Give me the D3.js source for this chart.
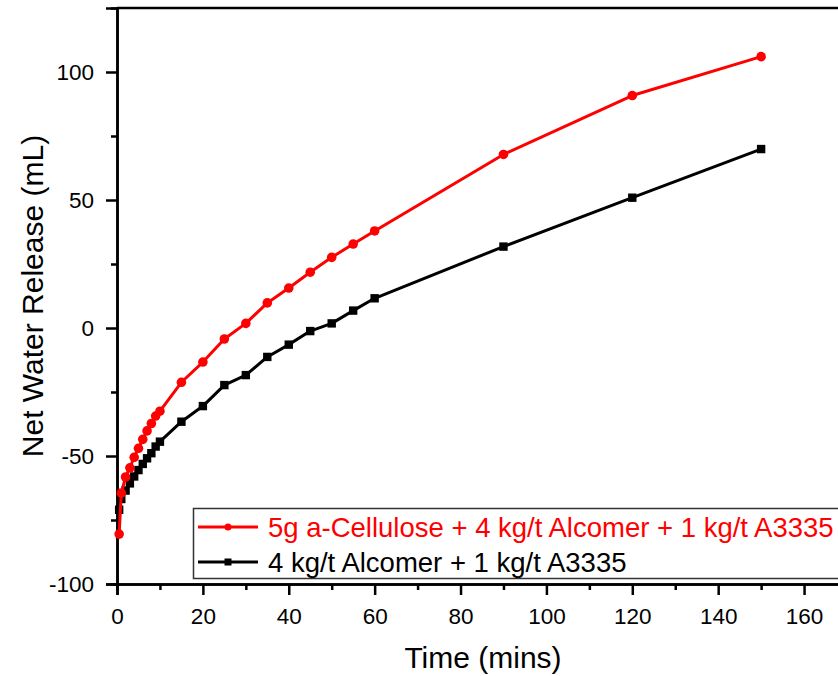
<!DOCTYPE html>
<html>
<head>
<meta charset="utf-8">
<script src="https://cdn.jsdelivr.net/npm/d3@7"></script>
<style>
  html, body { margin: 0; padding: 0; background: #fff; }
  svg { display: block; font-family: "Liberation Sans", Arial, sans-serif; }
</style>
</head>
<body>
<svg id="chart" width="838" height="676"></svg>
<script>
// Sampling times (mins) and net water release (mL) for each treatment
const timesA = [0.5, 1, 2, 3, 4, 5, 6, 7, 8, 9, 10, 15, 20, 25, 30, 35, 40, 45, 50, 55, 60, 90, 120, 150];
const cellulose = [-80.5, -64.5, -58.2, -54.6, -50.5, -47, -43.5, -40.2, -37.3, -34.4, -32.5, -21.2, -13.3, -4.3, 1.8, 9.8, 15.6, 21.8, 27.6, 32.8, 37.9, 67.8, 90.8, 106];
const timesB = [0.5, 1, 2, 3, 4, 5, 6, 7, 8, 9, 10, 15, 20, 25, 30, 35, 40, 45, 50, 55, 60, 90, 120, 150];
const alcomer = [-71, -66.8, -63.5, -60.7, -58, -55.5, -53.1, -50.9, -48.9, -46.3, -44.4, -36.6, -30.5, -22.3, -18.4, -11.3, -6.5, -1.2, 1.8, 6.8, 11.6, 31.8, 50.9, 69.9];

const seriesNames = ["5g a-Cellulose + 4 kg/t Alcomer + 1 kg/t A3335", "4 kg/t Alcomer + 1 kg/t A3335"];
const xMajor = [0, 20, 40, 60, 80, 100, 120, 140, 160];
const xMinor = [10, 30, 50, 70, 90, 110, 130, 150];
const yMajor = [-100, -50, 0, 50, 100];
const yMinor = [-75, -25, 25, 75];

const svg = d3.select("#chart");
const x = d3.scaleLinear().domain([0, 170]).range([117, 847]);
const y = d3.scaleLinear().domain([-100, 125]).range([584, 8]);

// Plain hyphen for negatives, as in the axis labels
const fmt = d => String(d);

// Axes
const gx = svg.append("g").attr("transform", `translate(0,${y(-100)})`)
  .call(d3.axisBottom(x).tickValues(xMajor).tickSize(11).tickFormat(fmt));
svg.append("g").attr("transform", `translate(0,${y(-100)})`)
  .call(d3.axisBottom(x).tickValues(xMinor).tickSize(6).tickFormat(""));
const gy = svg.append("g").attr("transform", `translate(${x(0)},0)`)
  .call(d3.axisLeft(y).tickValues(yMajor).tickSize(11).tickPadding(12).tickFormat(fmt));
svg.append("g").attr("transform", `translate(${x(0)},0)`)
  .call(d3.axisLeft(y).tickValues(yMinor).tickSize(6).tickFormat(""));

svg.selectAll(".domain").attr("stroke", "#000").attr("stroke-width", 2.5);
svg.selectAll(".tick line").attr("stroke", "#000").attr("stroke-width", 2.5);
svg.selectAll(".tick text").attr("fill", "#000").style("font-size", "22.5px");
gx.selectAll(".tick text").attr("y", 40).attr("dy", 0);
gy.selectAll(".tick text").attr("dy", "0.35em");

// Top frame line
svg.append("line")
  .attr("x1", x(0)).attr("x2", x(170))
  .attr("y1", y(125)).attr("y2", y(125))
  .attr("stroke", "#000").attr("stroke-width", 2.5);

// Axis titles
svg.append("text")
  .attr("x", 483).attr("y", 668)
  .attr("text-anchor", "middle")
  .style("font-size", "30px")
  .text("Time (mins)");
svg.append("text")
  .attr("transform", `translate(43,${y(12.5)}) rotate(-90)`)
  .attr("text-anchor", "middle")
  .style("font-size", "30px")
  .text("Net Water Release (mL)");

// Series
const line = d3.line().x(d => x(d[0])).y(d => y(d[1]));
const dataA = timesA.map((t, i) => [t, cellulose[i]]);
const dataB = timesB.map((t, i) => [t, alcomer[i]]);

function drawSeries(data, color, shape) {
  svg.append("path").datum(data)
    .attr("fill", "none").attr("stroke", color).attr("stroke-width", 3)
    .attr("stroke-linejoin", "round")
    .attr("d", line);
  const g = svg.append("g");
  if (shape === "circle") {
    g.selectAll("circle").data(data).join("circle")
      .attr("cx", d => x(d[0])).attr("cy", d => y(d[1])).attr("r", 4.8).attr("fill", color);
  } else {
    g.selectAll("rect").data(data).join("rect")
      .attr("x", d => x(d[0]) - 4.2).attr("y", d => y(d[1]) - 4.2)
      .attr("width", 8.4).attr("height", 8.4).attr("fill", color);
  }
}
drawSeries(dataB, "#000", "square");
drawSeries(dataA, "#ff0000", "circle");

// Legend
const legend = svg.append("g");
legend.append("rect")
  .attr("x", 193.5).attr("y", 508.5).attr("width", 660).attr("height", 70)
  .attr("fill", "#fff").attr("stroke", "#333").attr("stroke-width", 1.5);
const rows = [
  { name: seriesNames[0], color: "#ff0000", shape: "circle", cy: 527 },
  { name: seriesNames[1], color: "#000", shape: "square", cy: 562 }
];
rows.forEach(r => {
  legend.append("line").attr("x1", 198).attr("x2", 258).attr("y1", r.cy).attr("y2", r.cy)
    .attr("stroke", r.color).attr("stroke-width", 3);
  if (r.shape === "circle") {
    legend.append("circle").attr("cx", 228).attr("cy", r.cy).attr("r", 3.5).attr("fill", r.color);
  } else {
    legend.append("rect").attr("x", 224.5).attr("y", r.cy - 3.5).attr("width", 7).attr("height", 7).attr("fill", r.color);
  }
  legend.append("text").attr("x", 268).attr("y", r.cy).attr("dy", "0.36em")
    .attr("fill", r.color).style("font-size", "27.5px").text(r.name);
});
</script>
</body>
</html>
